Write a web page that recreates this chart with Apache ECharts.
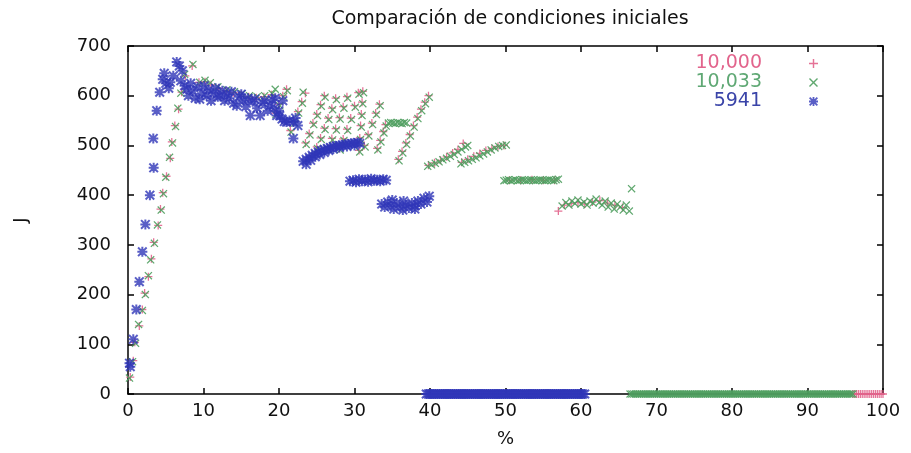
<!DOCTYPE html>
<html>
<head>
<meta charset="utf-8">
<script src="https://cdn.jsdelivr.net/npm/echarts@6/dist/echarts.min.js"></script>
<style>html,body{margin:0;padding:0;background:#fff;}#c{width:911px;height:453px;}</style>
</head>
<body>
<div id="c"></div>
<script>
// ---- data (x = %, y = J) ----
const xTicks = [0,10,20,30,40,50,60,70,80,90,100];
const yTicks = [0,100,200,300,400,500,600,700];
const seriesNames = ['10,000', '10,033', '5941'];

const p10000 = [
  [0.3,34],[0.7,67],[0.9,104],[1.5,137],[1.9,170],[2.2,203],[2.7,236],[3.1,272],[3.4,305],[4.0,339],[4.3,372],[4.6,405],[5.1,438],[5.6,474],[5.8,507],[6.2,540],[6.7,573],[7.1,607],
  [7.6,640],[8.5,660],[9.4,627],[10.2,628],[11.0,622],[12.0,615],[13.0,610],[14.0,606],[15.0,602],[16.0,598],[17.0,596],[18.0,598],[19.0,602],
  [19.5,565],[20.0,583],[20.5,600],[21.0,613],
  [21.5,530],[22.0,548],[22.5,568],[23.0,588],[23.5,605],
  [23.5,505],[24.0,524],[24.5,545],[25.0,563],[25.5,582],[26.0,600],
  [25.0,497],[25.5,515],[26.0,535],[26.5,555],[27.0,575],[27.5,595],
  [26.5,495],[27.0,514],[27.5,534],[28.0,556],[28.5,578],[29.0,598],
  [28.0,494],[28.5,513],[29.0,533],[29.5,555],[30.0,580],[30.5,606],
  [30.6,490],[30.7,515],[30.8,540],[30.9,563],[31.0,587],[31.1,609],
  [31.3,500],[31.8,522],[32.3,545],[32.8,565],[33.3,583],
  [33.0,494],[33.4,510],[33.8,528],[34.1,542],
  [35.8,472],[36.3,488],[36.8,505],[37.3,522],[37.8,540],[38.3,557],[38.8,573],[39.3,587],[39.8,600],
  [39.8,460],[40.6,465],[41.4,470],[42.2,477],[43.0,485],[43.7,492],[44.4,504],
  [44.2,466],[45.0,472],[45.8,478],[46.6,484],[47.4,490],[48.2,494],[49.0,498],[49.8,500],
  [50.5,430],[52.0,430],[53.5,431],[55.0,430],[56.5,430],
  [57.0,368],[57.8,380],[58.7,383],[59.6,385],[60.5,382],[61.5,386],[62.5,389],[63.5,384],[64.5,380],[65.5,375],
  [96,0],[96.25,0],[96.5,0],[96.75,0],[97,0],[97.25,0],[97.5,0],[97.75,0],[98,0],[98.25,0],[98.5,0],[98.75,0],[99,0],[99.25,0],[99.5,0],[99.75,0],[100,0]
];

const g10033 = [
  [0.2,32],[0.6,65],[1.0,102],[1.4,140],[1.9,168],[2.3,200],[2.7,238],[3.0,270],[3.5,303],[3.9,340],[4.4,370],[4.7,403],[5.0,436],[5.5,476],[5.9,505],[6.3,538],[6.6,575],[7.0,605],
  [7.5,643],[8.6,663],[9.5,627],[10.2,631],[10.9,626],[11.9,618],[13.1,612],[14.1,608],[15.1,604],[16.1,600],[17.1,598],[18.1,600],[19.1,604],[19.5,613],
  [19.6,562],[20.1,580],[20.6,598],[21.1,610],
  [21.6,527],[22.1,545],[22.6,565],[23.1,585],[23.2,607],
  [23.6,502],[24.1,521],[24.6,542],[25.1,560],[25.6,579],[26.1,597],
  [25.1,494],[25.6,512],[26.1,532],[26.6,552],[27.1,572],[27.6,592],
  [26.6,492],[27.1,511],[27.6,531],[28.1,553],[28.6,575],[29.1,595],
  [28.1,491],[28.6,510],[29.1,530],[29.6,552],[30.1,577],[30.6,603],
  [30.7,487],[30.8,512],[30.9,537],[31.0,560],[31.1,584],[31.2,606],
  [31.4,497],[31.9,519],[32.4,542],[32.9,562],[33.4,580],
  [33.1,491],[33.5,507],[33.9,525],[34.2,539],
  [34.5,545],[34.8,546],[35.1,545],[35.4,544],[35.7,546],[36.0,545],[36.3,544],[36.6,546],[36.9,545],
  [35.9,469],[36.4,485],[36.9,502],[37.4,519],[37.9,537],[38.4,554],[38.9,570],[39.4,584],[39.9,597],
  [39.7,458],[40.2,461],[40.7,464],[41.2,467],[41.7,471],[42.2,474],[42.7,478],[43.2,482],[43.7,487],[44.2,492],[44.7,497],[45.0,500],
  [44.1,463],[44.6,466],[45.1,469],[45.6,472],[46.1,475],[46.6,479],[47.1,483],[47.6,487],[48.1,491],[48.6,495],[49.1,498],[49.6,500],[50.1,501],
  [49.8,429],[50.1,430],[50.4,431],[50.7,429],[51.0,430],[51.3,431],[51.6,429],[51.9,430],[52.2,431],[52.5,430],[52.8,429],[53.1,430],[53.4,431],[53.7,430],[54.0,429],[54.3,430],[54.6,431],[54.9,430],[55.2,429],[55.5,430],[55.8,431],[56.1,430],[56.4,429],[56.7,431],[57.0,432],
  [57.5,378],[58.0,385],[58.4,380],[58.8,388],[59.2,383],[59.6,390],[60.0,382],[60.4,386],[60.8,380],[61.2,388],[61.6,384],[62.0,392],[62.4,385],[62.8,380],[63.2,388],[63.6,376],[64.0,384],[64.4,372],[64.8,382],[65.2,376],[65.6,370],[66.0,380],[66.4,368],
  [66.7,413],
  [66.5,0],[66.75,0],[67,0],[67.25,0],[67.5,0],[67.75,0],[68,0],[68.25,0],[68.5,0],[68.75,0],[69,0],[69.25,0],[69.5,0],[69.75,0],[70,0],[70.25,0],[70.5,0],[70.75,0],
  [71,0],[71.25,0],[71.5,0],[71.75,0],[72,0],[72.25,0],[72.5,0],[72.75,0],[73,0],[73.25,0],[73.5,0],[73.75,0],[74,0],[74.25,0],[74.5,0],[74.75,0],[75,0],[75.25,0],
  [75.5,0],[75.75,0],[76,0],[76.25,0],[76.5,0],[76.75,0],[77,0],[77.25,0],[77.5,0],[77.75,0],[78,0],[78.25,0],[78.5,0],[78.75,0],[79,0],[79.25,0],[79.5,0],[79.75,0],
  [80,0],[80.25,0],[80.5,0],[80.75,0],[81,0],[81.25,0],[81.5,0],[81.75,0],[82,0],[82.25,0],[82.5,0],[82.75,0],[83,0],[83.25,0],[83.5,0],[83.75,0],[84,0],[84.25,0],
  [84.5,0],[84.75,0],[85,0],[85.25,0],[85.5,0],[85.75,0],[86,0],[86.25,0],[86.5,0],[86.75,0],[87,0],[87.25,0],[87.5,0],[87.75,0],[88,0],[88.25,0],[88.5,0],[88.75,0],
  [89,0],[89.25,0],[89.5,0],[89.75,0],[90,0],[90.25,0],[90.5,0],[90.75,0],[91,0],[91.25,0],[91.5,0],[91.75,0],[92,0],[92.25,0],[92.5,0],[92.75,0],[93,0],[93.25,0],
  [93.5,0],[93.75,0],[94,0],[94.25,0],[94.5,0],[94.75,0],[95,0],[95.25,0],[95.5,0],[95.75,0],[96,0]
];

const b5941 = [
  [0.3,55],[0.2,62],[0.7,110],[1.1,170],[1.5,226],[1.9,286],[2.3,341],[2.9,400],[3.4,455],[3.35,514],[3.8,570],[4.2,607],[4.6,633],[4.8,645],
  [5.0,625],[5.4,615],[5.6,627],[6.0,640],[6.45,668],[6.8,660],[7.2,650],[7.0,630],[7.5,620],[7.8,613],[8.0,600],
  [8.3,625],[8.6,610],[8.9,595],[9.2,618],[9.5,593],[9.8,605],[10.1,620],[10.4,600],[10.7,612],[11.0,590],[11.3,605],[11.6,615],[11.9,598],[12.2,600],[12.5,610],[12.8,590],[13.1,603],[13.4,595],[13.7,608],[14.0,585],[14.4,580],[14.7,598],[15.0,603],[15.3,590],[15.6,578],[15.9,595],[16.2,560],[16.5,588],[16.8,593],[17.1,575],[17.5,560],[17.8,585],[18.1,590],[18.5,570],[18.8,580],[19.1,592],[19.4,575],[19.5,595],[19.7,560],[20.0,570],[20.1,560],[20.4,553],[20.5,590],[20.7,548],[21.0,547],[21.4,550],[21.9,547],[22.2,555],[22.5,540],[21.9,514],
  [23.2,468],[23.6,472],[24.0,476],[24.4,480],[24.8,484],[25.2,487],[25.6,490],[26.0,492],[26.4,494],[26.8,496],[27.2,498],[27.6,499],[28.0,500],[28.4,501],[28.8,502],[29.2,503],[29.6,504],[30.0,505],[30.4,506],[30.7,504],
  [23.6,462],[24.2,470],[24.8,477],[25.4,482],[26.0,486],[26.6,490],[27.2,493],[28.0,496],[29.0,498],[30.0,500],
  [29.4,428],[29.8,430],[30.2,426],[30.6,432],[31.0,428],[31.4,431],[31.8,427],[32.2,433],[32.6,429],[33.0,431],[33.4,428],[33.8,432],[34.2,430],
  [33.6,382],[34.0,376],[34.4,386],[34.8,378],[35.2,372],[35.6,384],[36.0,376],[36.4,370],[36.8,380],[37.2,374],[37.6,384],[38.0,378],[38.4,388],[38.8,382],[39.2,394],[39.6,386],[39.9,398],[35.0,390],[36.5,388],[38.0,372],
  [39.5,0],[39.75,0],[40,0],[40.25,0],[40.5,0],[40.75,0],[41,0],[41.25,0],[41.5,0],[41.75,0],[42,0],[42.25,0],[42.5,0],[42.75,0],[43,0],[43.25,0],[43.5,0],[43.75,0],
  [44,0],[44.25,0],[44.5,0],[44.75,0],[45,0],[45.25,0],[45.5,0],[45.75,0],[46,0],[46.25,0],[46.5,0],[46.75,0],[47,0],[47.25,0],[47.5,0],[47.75,0],[48,0],[48.25,0],
  [48.5,0],[48.75,0],[49,0],[49.25,0],[49.5,0],[49.75,0],[50,0],[50.25,0],[50.5,0],[50.75,0],[51,0],[51.25,0],[51.5,0],[51.75,0],[52,0],[52.25,0],[52.5,0],[52.75,0],
  [53,0],[53.25,0],[53.5,0],[53.75,0],[54,0],[54.25,0],[54.5,0],[54.75,0],[55,0],[55.25,0],[55.5,0],[55.75,0],[56,0],[56.25,0],[56.5,0],[56.75,0],[57,0],[57.25,0],
  [57.5,0],[57.75,0],[58,0],[58.25,0],[58.5,0],[58.75,0],[59,0],[59.25,0],[59.5,0],[59.75,0],[60,0],[60.25,0],[60.5,0]
];

// ---- styles ----
const PINK = '#e2648c', GREEN = '#4f9f5f', BLUE = '#2f36b8';
const PLUS = 'path://M4.2,0h1.6v4.2h4.2v1.6h-4.2v4.2h-1.6v-4.2h-4.2v-1.6h4.2z';
const CROSS = 'path://M0,1.1L1.1,0L5,3.9L8.9,0L10,1.1L6.1,5L10,8.9L8.9,10L5,6.1L1.1,10L0,8.9L3.9,5z';
const STAR = 'path://M4,0h2v4h4v2h-4v4h-2v-4h-4v-2h4zM0,1.4L1.4,0L5,3.6L8.6,0L10,1.4L6.4,5L10,8.6L8.6,10L5,6.4L1.4,10L0,8.6L3.6,5z';
const FONT = 'DejaVu Sans';

const chart = echarts.init(document.getElementById('c'), null, {renderer: 'canvas'});
const xMin = xTicks[0], xMax = xTicks[xTicks.length-1];
const yMin = yTicks[0], yMax = yTicks[yTicks.length-1];
const baseX = {type: 'value', min: xMin, max: xMax, interval: xTicks[1]-xTicks[0],
  axisLine: {show: true, onZero: false, lineStyle: {color: '#000', width: 1.5}},
  axisTick: {show: true, inside: true, length: 6, lineStyle: {color: '#000', width: 1.5}},
  splitLine: {show: false}};
const baseY = {type: 'value', min: yMin, max: yMax, interval: yTicks[1]-yTicks[0],
  axisLine: {show: true, onZero: false, lineStyle: {color: '#000', width: 1.5}},
  axisTick: {show: true, inside: true, length: 6, lineStyle: {color: '#000', width: 1.5}},
  splitLine: {show: false}};

chart.setOption({
  animation: false,
  backgroundColor: '#fff',
  title: {text: 'Comparación de condiciones iniciales', left: 505, top: 5, textAlign: 'center',
    textStyle: {fontFamily: FONT, fontSize: 19, fontWeight: 'normal', color: '#111'}},
  grid: {left: 128, right: 28, top: 46, bottom: 54},
  legend: {
    orient: 'vertical', right: 88, top: 49, align: 'right', itemGap: 0,
    itemWidth: 9, itemHeight: 9,
    textStyle: {fontFamily: FONT, fontSize: 19, lineHeight: 18.5, padding: [0, 42, 0, 0]},
    data: [
      {name: seriesNames[0], textStyle: {color: PINK}},
      {name: seriesNames[1], textStyle: {color: '#5fa874'}},
      {name: seriesNames[2], textStyle: {color: '#3a44a8'}}
    ]
  },
  xAxis: [
    Object.assign({}, baseX, {position: 'bottom', name: '%', nameLocation: 'middle', nameGap: 36,
      nameTextStyle: {fontFamily: FONT, fontSize: 18, color: '#111'},
      axisLabel: {fontFamily: FONT, fontSize: 18, color: '#111', margin: 8}}),
    Object.assign({}, baseX, {position: 'top', axisLabel: {show: false}})
  ],
  yAxis: [
    Object.assign({}, baseY, {position: 'left', name: 'J', nameLocation: 'middle', nameGap: 98, nameRotate: 90,
      nameTextStyle: {fontFamily: FONT, fontSize: 18, color: '#111'},
      axisLabel: {fontFamily: FONT, fontSize: 18, color: '#111', margin: 17}}),
    Object.assign({}, baseY, {position: 'right', axisLabel: {show: false}})
  ],
  series: [
    {name: seriesNames[0], type: 'scatter', data: p10000, symbol: PLUS, symbolSize: 8, clip: false,
      itemStyle: {color: PINK, opacity: 0.9}},
    {name: seriesNames[1], type: 'scatter', data: g10033, symbol: CROSS, symbolSize: 8, clip: false,
      itemStyle: {color: GREEN, opacity: 0.9}},
    {name: seriesNames[2], type: 'scatter', data: b5941, symbol: STAR, symbolSize: 10, clip: false,
      itemStyle: {color: BLUE}}
  ]
});
</script>
</body>
</html>
